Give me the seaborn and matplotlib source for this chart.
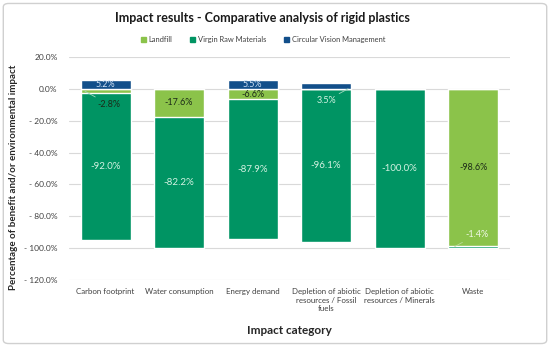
import matplotlib
matplotlib.use("Agg")
import matplotlib.pyplot as plt
import seaborn as sns
import pandas as pd
import numpy as np
from matplotlib.patches import FancyBboxPatch, Patch

categories = ["Carbon footprint", "Water consumption", "Energy demand",
              "Depletion of abiotic\nresources / Fossil\nfuels",
              "Depletion of abiotic\nresources / Minerals", "Waste"]
landfill = [-2.8, -17.6, -6.6, 0.0, 0.0, -98.6]
virgin = [-92.0, -82.2, -87.9, -96.1, -100.0, -1.4]
circular = [5.2, 0.0, 5.5, 3.5, 0.0, 0.0]
yticks = [20, 0, -20, -40, -60, -80, -100, -120]

c_land = "#8bc34a"
c_virgin = "#009463"
c_circ = "#124f8a"

sns.set_theme(style="white")
plt.rcParams['font.family'] = ['Lato', 'DejaVu Sans']

df = pd.DataFrame({"cat": categories, "landfill": landfill, "virgin": virgin, "circular": circular})
df["total"] = df["landfill"] + df["virgin"]

fig = plt.figure(figsize=(5.5, 3.47), dpi=100)
ax = fig.add_axes([0.125, 0.193, 0.802, 0.643])

# stacked look: total negative first, landfill over it, circular positive
sns.barplot(data=df, x="cat", y="total", color=c_virgin, width=0.68, saturation=1, ax=ax, zorder=2)
sns.barplot(data=df, x="cat", y="landfill", color=c_land, width=0.68, saturation=1, ax=ax, zorder=3)
sns.barplot(data=df, x="cat", y="circular", color=c_circ, width=0.68, saturation=1, ax=ax, zorder=3)

ax.set_ylim(-120, 20)
ax.set_yticks(yticks)
ax.set_yticklabels([f"{v:.1f}%" if v >= 0 else f"- {abs(v):.1f}%" for v in yticks],
                   fontsize=6, color="#404040")
ax.tick_params(axis="x", labelsize=5.7, colors="#404040", length=0, pad=6)
ax.tick_params(axis="y", length=0, pad=8)
ax.yaxis.grid(True, color="#d9d9d9", linewidth=0.8, zorder=0)
ax.set_axisbelow(True)
for s in ax.spines.values():
    s.set_visible(False)
ax.set_xlim(-0.5, 5.5)

ax.set_xlabel("Impact category", fontsize=8.5, fontweight="bold")
ax.set_ylabel("Percentage of benefit and/or environmental impact", fontsize=7,
              fontweight="bold")
ax.xaxis.set_label_coords(0.5, -0.2)
ax.yaxis.set_label_coords(-0.115, 0.46)

light_txt = "#d4f2e2"
dark_txt = "#1c2a18"
blue_txt = "#d0e2f5"

for i in range(len(categories)):
    lf, vr, cv = landfill[i], virgin[i], circular[i]
    if cv > 1:
        if cv > 4:
            ax.text(i, cv / 2, f"{cv:.1f}%", ha="center", va="center", fontsize=6.5, color=blue_txt, zorder=5)
        else:
            ax.annotate(f"{cv:.1f}%", xy=(i + 0.3, 0), xytext=(i, -7.5), ha="center", va="center",
                        fontsize=6.5, color=light_txt, zorder=5,
                        arrowprops=dict(arrowstyle="-", color="#9fd8bd", lw=0.6, shrinkA=9, shrinkB=0))
    if lf < -4 and abs(lf) > abs(vr):
        ax.text(i, lf / 2, f"{lf:.1f}%", ha="center", va="center", fontsize=6.5, color=dark_txt, zorder=5)
        ax.annotate(f"{vr:.1f}%", xy=(i - 0.25, lf + vr + 1), xytext=(i + 0.05, -91.5), ha="center",
                    va="center", fontsize=6.5, color="#f0f8e8", zorder=5,
                    arrowprops=dict(arrowstyle="-", color="#b9d99a", lw=0.6, shrinkA=9, shrinkB=0))
        continue
    if lf < -4:
        ax.text(i, lf / 2, f"{lf:.1f}%", ha="center", va="center", fontsize=6.5, color=dark_txt, zorder=5)
    elif lf < 0:
        ax.annotate(f"{lf:.1f}%", xy=(i - 0.28, -1.5), xytext=(i + 0.05, -10), ha="center", va="center",
                    fontsize=6.5, color=dark_txt, zorder=5,
                    arrowprops=dict(arrowstyle="-", color="#9fd8bd", lw=0.6, shrinkA=9, shrinkB=0))
    ax.text(i, lf + vr / 2, f"{vr:.1f}%", ha="center", va="center", fontsize=7, color=light_txt, zorder=5)

handles = [Patch(color=c_land, label="Landfill"),
           Patch(color=c_virgin, label="Virgin Raw Materials"),
           Patch(color=c_circ, label="Circular Vision Management")]
fig.legend(handles=handles, loc="center", bbox_to_anchor=(0.478, 0.885), ncol=3, frameon=False,
           fontsize=5.4, handlelength=0.7, handleheight=0.7, handletextpad=0.3, columnspacing=2.4,
           labelcolor="#404040")

fig.text(0.478, 0.947, "Impact results - Comparative analysis of rigid plastics", ha="center",
         va="center", fontsize=9, fontweight="bold", color="#1a1a1a")

border = FancyBboxPatch((0.006, 0.01), 0.988, 0.98, boxstyle="round,pad=0,rounding_size=0.01",
                        transform=fig.transFigure, fill=False, edgecolor="#d0d0d0", linewidth=1)
fig.patches.append(border)

fig.savefig("out.png", dpi=100)
